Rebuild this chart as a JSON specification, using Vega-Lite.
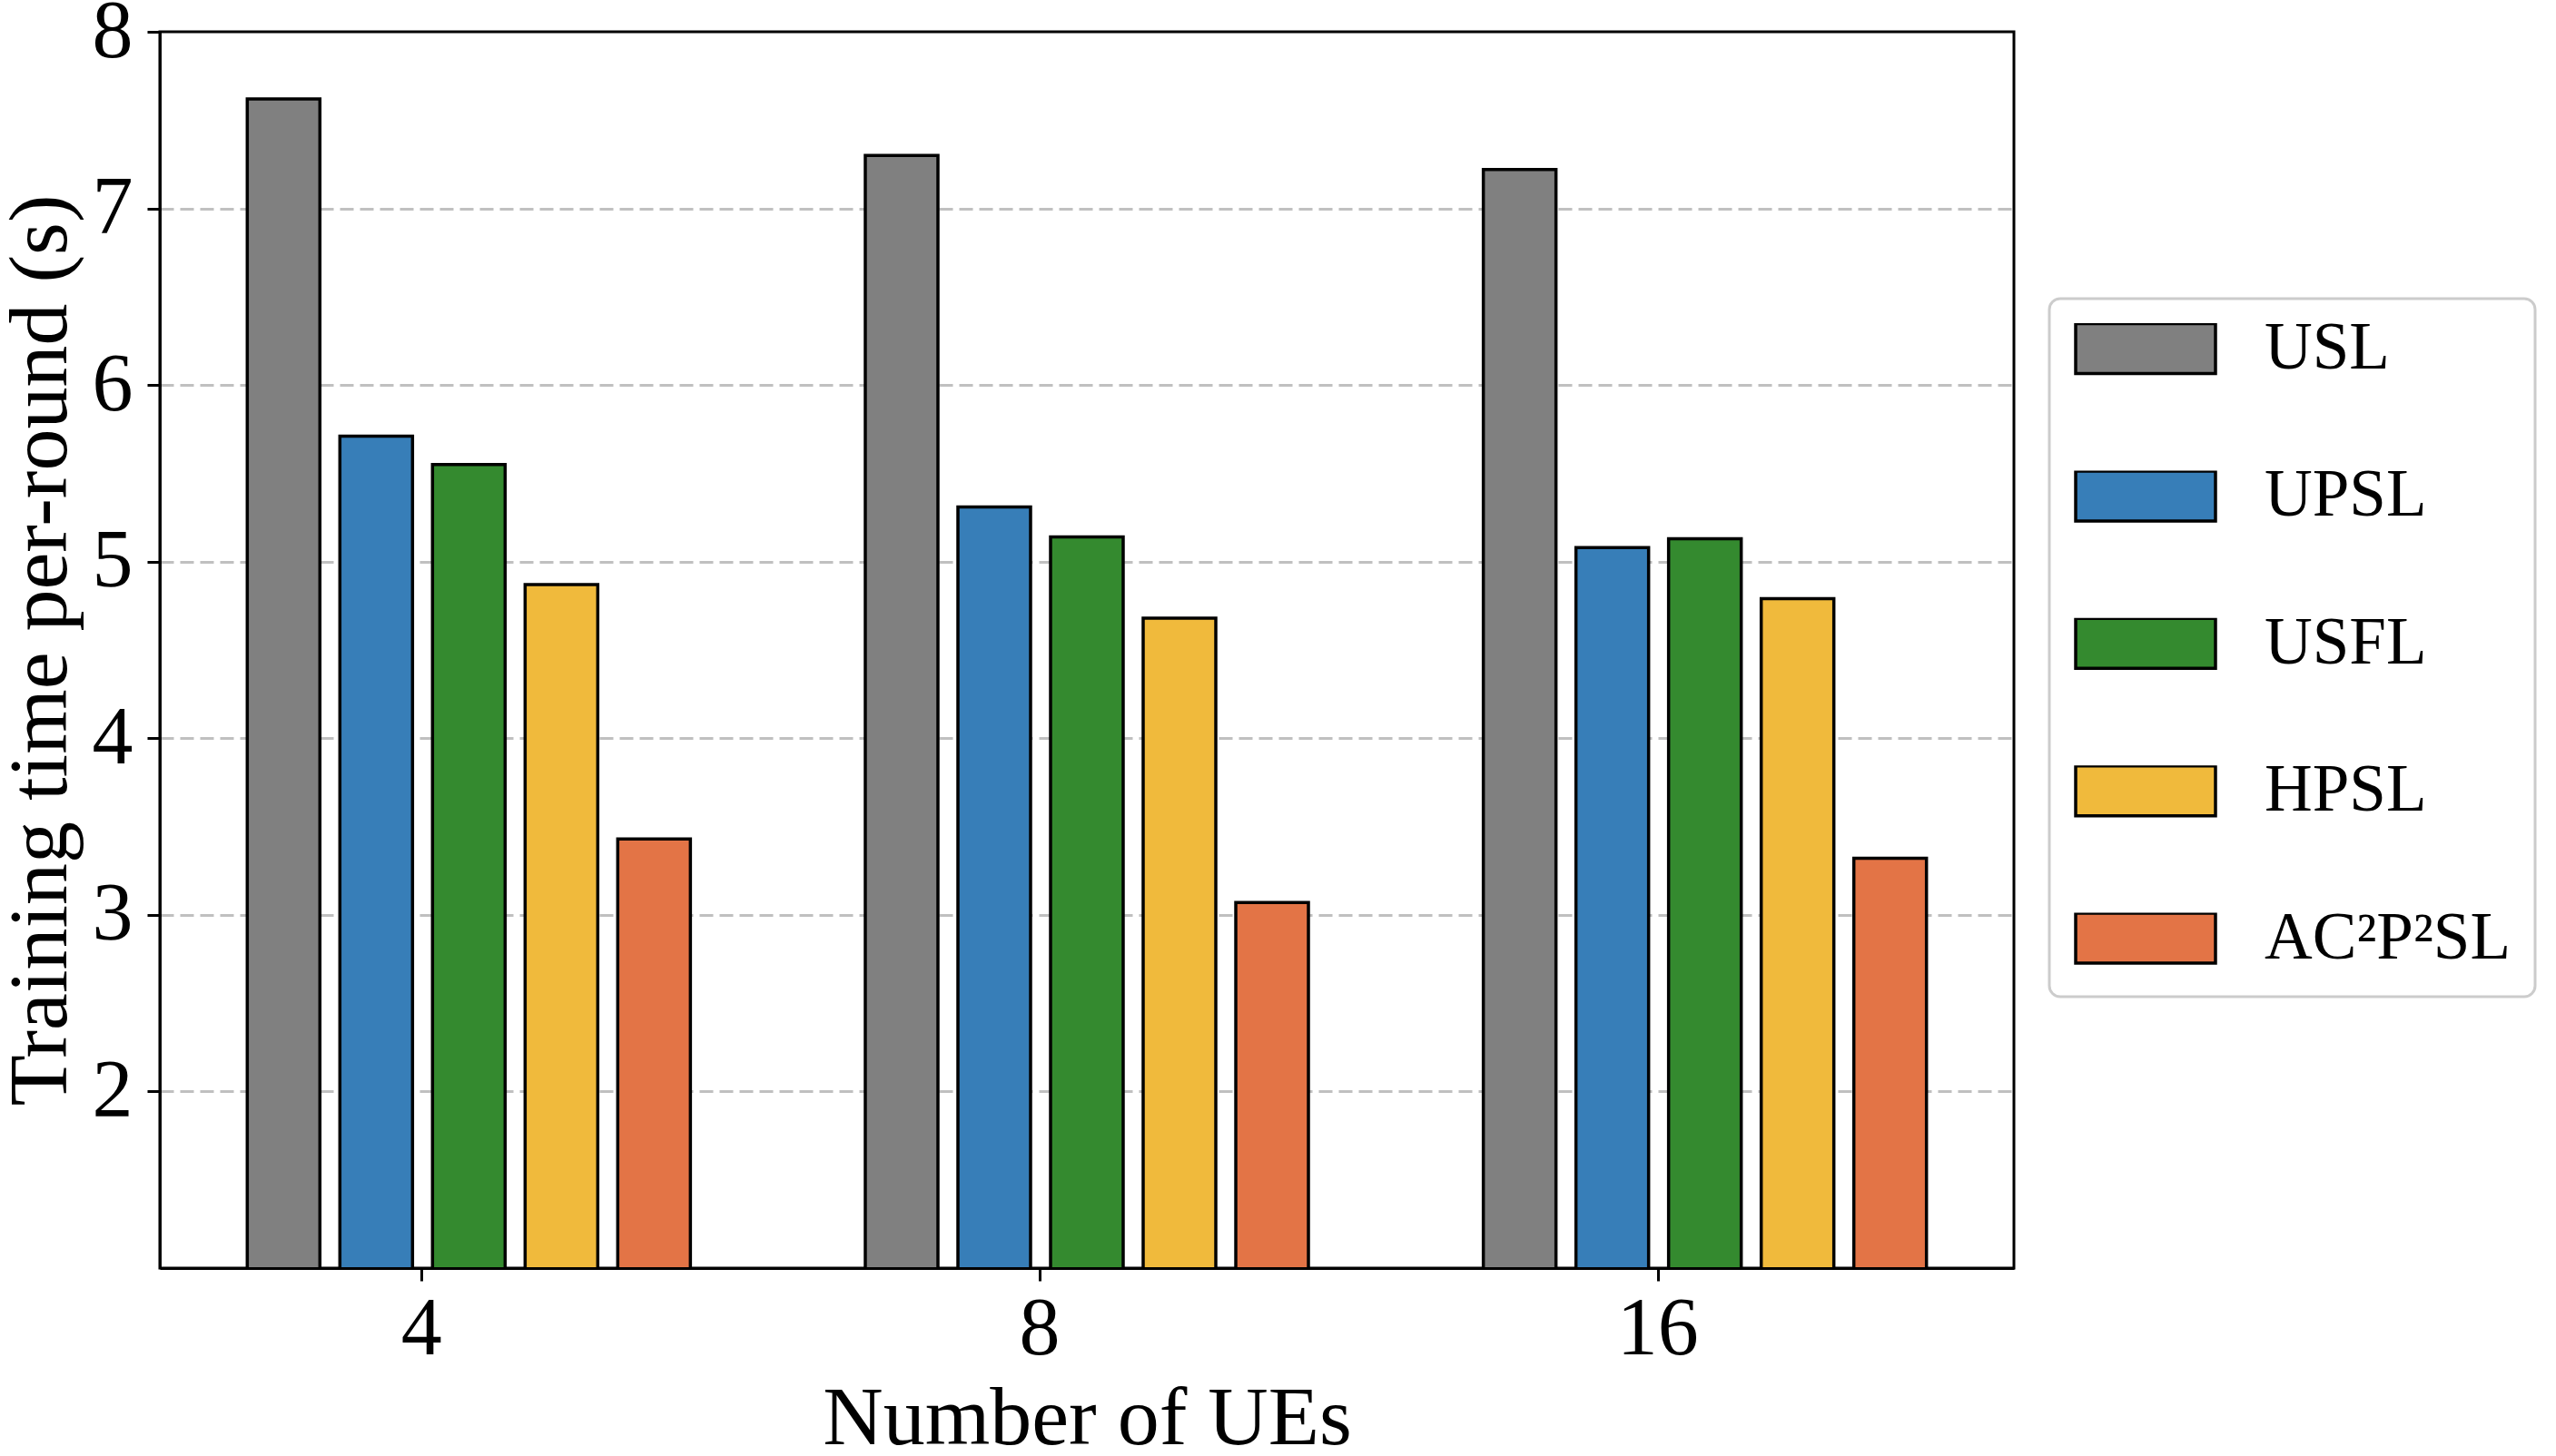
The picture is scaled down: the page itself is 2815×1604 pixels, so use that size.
{
  "$schema": "https://vega.github.io/schema/vega-lite/v6.json",
  "width": 2042,
  "height": 1362,
  "autosize": "none",
  "padding": {"left": 176, "top": 35, "right": 597, "bottom": 207},
  "background": "white",
  "config": {
    "font": "Liberation Serif",
    "view": {"stroke": "black", "strokeWidth": 3},
    "axis": {
      "labelFont": "Liberation Serif",
      "titleFont": "Liberation Serif",
      "labelColor": "black",
      "titleColor": "black",
      "labelFontSize": 90,
      "titleFontSize": 92,
      "titleFontWeight": "normal",
      "domainColor": "black",
      "domainWidth": 3,
      "tickColor": "black",
      "tickWidth": 3,
      "tickSize": 14
    }
  },
  "data": {
    "values": [
      {"ues": "4", "method": "USL", "time": 7.62},
      {"ues": "4", "method": "UPSL", "time": 5.71},
      {"ues": "4", "method": "USFL", "time": 5.55},
      {"ues": "4", "method": "HPSL", "time": 4.87},
      {"ues": "4", "method": "AC²P²SL", "time": 3.43},
      {"ues": "8", "method": "USL", "time": 7.30},
      {"ues": "8", "method": "UPSL", "time": 5.31},
      {"ues": "8", "method": "USFL", "time": 5.14},
      {"ues": "8", "method": "HPSL", "time": 4.68},
      {"ues": "8", "method": "AC²P²SL", "time": 3.07},
      {"ues": "16", "method": "USL", "time": 7.22},
      {"ues": "16", "method": "UPSL", "time": 5.08},
      {"ues": "16", "method": "USFL", "time": 5.13},
      {"ues": "16", "method": "HPSL", "time": 4.79},
      {"ues": "16", "method": "AC²P²SL", "time": 3.32}
    ]
  },
  "mark": {"type": "bar", "stroke": "black", "strokeWidth": 3.5, "clip": true, "opacity": 1},
  "encoding": {
    "x": {
      "field": "ues",
      "type": "nominal",
      "sort": ["4", "8", "16"],
      "scale": {"paddingInner": 0.283, "paddingOuter": 0.1415},
      "axis": {
        "title": "Number of UEs",
        "labelAngle": 0,
        "bandPosition": 0.3947,
        "grid": false,
        "zindex": 1,
        "labelBaseline": "alphabetic",
        "labelPadding": 80,
        "labelOffset": -52,
        "titleBaseline": "alphabetic",
        "titleY": 193
      }
    },
    "xOffset": {
      "field": "method",
      "type": "nominal",
      "scale": {
        "domain": ["USL", "UPSL", "USFL", "HPSL", "AC²P²SL"],
        "paddingInner": 0.2157,
        "paddingOuter": 0
      }
    },
    "y": {
      "field": "time",
      "type": "quantitative",
      "scale": {"domain": [1, 8], "zero": false, "nice": false},
      "axis": {
        "title": "Training time per-round (s)",
        "values": [2, 3, 4, 5, 6, 7, 8],
        "grid": true,
        "gridColor": "#c0c0c0",
        "gridWidth": 3,
        "gridDash": [15, 7],
        "gridOpacity": {"condition": {"test": "datum.value >= 8", "value": 0}, "value": 1},
        "labelPadding": 16,
        "titleBaseline": "alphabetic",
        "titleX": -104
      }
    },
    "color": {
      "field": "method",
      "type": "nominal",
      "scale": {
        "domain": ["USL", "UPSL", "USFL", "HPSL", "AC²P²SL"],
        "range": ["#808080", "#377eb8", "#348a2f", "#f0ba3c", "#e37446"]
      },
      "legend": {
        "title": null,
        "orient": "none",
        "legendX": 2081,
        "legendY": 294,
        "padding": 27,
        "fillColor": "white",
        "strokeColor": "#cccccc",
        "cornerRadius": 12,
        "symbolType": "M-1,-0.357H1V0.357H-1Z",
        "symbolSize": 23716,
        "symbolStrokeColor": "black",
        "symbolStrokeWidth": 3.5,
        "symbolOpacity": 1,
        "clipHeight": 56,
        "rowPadding": 89.4,
        "labelFont": "Liberation Serif",
        "labelFontSize": 73,
        "labelColor": "black",
        "labelOffset": 52,
        "labelLimit": 600,
        "encode": {
          "legend": {"update": {"strokeWidth": {"value": 3}}}
        }
      }
    }
  }
}
